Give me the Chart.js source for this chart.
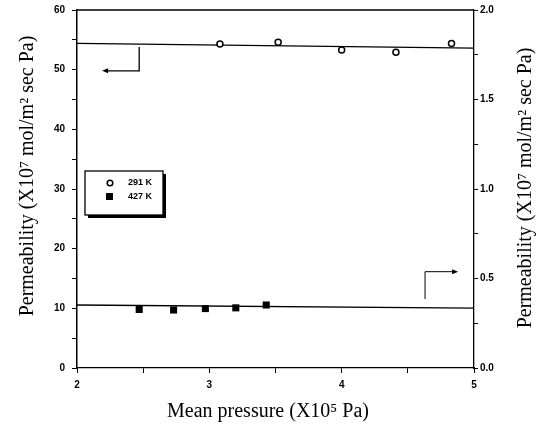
<!DOCTYPE html>
<html>
<head>
<meta charset="utf-8">
<script src="https://cdn.jsdelivr.net/npm/chart.js@4"></script>
<style>
  html, body { margin: 0; padding: 0; background: #fff; }
  #wrap { width: 547px; height: 428px; }
</style>
</head>
<body>
<div id="wrap"><canvas id="chart" width="547" height="428"></canvas></div>
<script>
// 291 K points, read against the left axis
const lowTempLabel = '291 K';
const lowTempX = [3.08, 3.52, 4.00, 4.41, 4.83];
const lowTempY = [54.3, 54.6, 53.3, 52.9, 54.4];
const lowFitX = [2, 5];
const lowFitY = [54.4, 53.6];

// 427 K points, read against the right axis
const highTempLabel = '427 K';
const highTempX = [2.47, 2.73, 2.97, 3.20, 3.43];
const highTempY = [0.327, 0.324, 0.332, 0.336, 0.352];
const highFitX = [2, 5];
const highFitY = [0.352, 0.334];

const xTicks = [2, 3, 4, 5];
const leftTicks = [0, 10, 20, 30, 40, 50, 60];
const rightTicks = [0, 0.5, 1.0, 1.5, 2.0];

const tickFont = { family: 'Liberation Sans', size: 10, weight: 'bold' };
const titleFont = '20px "Liberation Serif"';

const toPoints = (xs, ys) => xs.map((x, i) => ({ x: x, y: ys[i] }));

function drawArrowHead(ctx, x, y, dir) {
    ctx.beginPath();
    ctx.moveTo(x, y);
    ctx.lineTo(x - dir * 6, y - 2.5);
    ctx.lineTo(x - dir * 6, y + 2.5);
    ctx.closePath();
    ctx.fill();
}

const extras = {
    id: 'extras',
    afterDraw(chart) {
        const { ctx, chartArea: a, scales } = chart;
        const { x, y, y2 } = scales;
        ctx.save();
        ctx.strokeStyle = '#000';
        ctx.fillStyle = '#000';
        ctx.lineWidth = 1.3;

        // top frame line
        ctx.beginPath();
        ctx.moveTo(a.left, a.top);
        ctx.lineTo(a.right, a.top);
        ctx.stroke();

        // arrow pointing at the left axis (291 K)
        const lx = x.getPixelForValue(2.47);
        const ly0 = y.getPixelForValue(53.8);
        const ly1 = y.getPixelForValue(49.8);
        const ltip = x.getPixelForValue(2.19);
        ctx.beginPath();
        ctx.moveTo(lx, ly0);
        ctx.lineTo(lx, ly1);
        ctx.lineTo(ltip + 4, ly1);
        ctx.stroke();
        drawArrowHead(ctx, ltip, ly1, -1);

        // arrow pointing at the right axis (427 K)
        const rx = x.getPixelForValue(4.63);
        const ry0 = y2.getPixelForValue(0.385);
        const ry1 = y2.getPixelForValue(0.538);
        const rtip = x.getPixelForValue(4.88);
        ctx.lineWidth = 1;
        ctx.beginPath();
        ctx.moveTo(rx, ry0);
        ctx.lineTo(rx, ry1);
        ctx.lineTo(rtip - 4, ry1);
        ctx.stroke();
        drawArrowHead(ctx, rtip, ry1, 1);

        // legend box with shadow
        const bx = 85, by = 171, bw = 78, bh = 44;
        ctx.fillRect(bx + 3, by + 3, bw, bh);
        ctx.fillStyle = '#fff';
        ctx.fillRect(bx, by, bw, bh);
        ctx.lineWidth = 1.3;
        ctx.strokeRect(bx, by, bw, bh);
        ctx.fillStyle = '#000';
        ctx.beginPath();
        ctx.arc(bx + 25, by + 12, 2.8, 0, Math.PI * 2);
        ctx.lineWidth = 1.5;
        ctx.stroke();
        ctx.fillRect(bx + 21, by + 22, 7, 7);
        ctx.font = 'bold 9px "Liberation Sans"';
        ctx.textBaseline = 'middle';
        ctx.textAlign = 'left';
        ctx.fillText(lowTempLabel, bx + 43, by + 12);
        ctx.fillText(highTempLabel, bx + 43, by + 26);

        // axis titles
        ctx.font = titleFont;
        ctx.textAlign = 'center';
        ctx.save();
        ctx.translate(28, 176);
        ctx.rotate(-Math.PI / 2);
        ctx.fillText('Permeability (X10\u2077 mol/m\u00b2 sec Pa)', 0, 0);
        ctx.restore();
        ctx.save();
        ctx.translate(526, 188);
        ctx.rotate(-Math.PI / 2);
        ctx.fillText('Permeability (X10\u2077 mol/m\u00b2 sec Pa)', 0, 0);
        ctx.restore();
        ctx.fillText('Mean pressure (X10\u2075 Pa)', 268, 412);

        ctx.restore();
    }
};

function fixVertical(width) {
    return s => {
        s.width = width;
        s.paddingTop = 0;
        s.paddingBottom = 0;
    };
}

new Chart(document.getElementById('chart'), {
    type: 'scatter',
    data: {
        datasets: [
            {
                label: lowTempLabel,
                data: toPoints(lowTempX, lowTempY),
                yAxisID: 'y',
                pointStyle: 'circle',
                pointRadius: 3,
                pointBorderWidth: 1.5,
                borderColor: '#000',
                backgroundColor: '#fff'
            },
            {
                label: 'fit 291',
                data: toPoints(lowFitX, lowFitY),
                yAxisID: 'y',
                showLine: true,
                pointRadius: 0,
                borderColor: '#000',
                borderWidth: 1.3
            },
            {
                label: highTempLabel,
                data: toPoints(highTempX, highTempY),
                yAxisID: 'y2',
                pointStyle: 'rect',
                pointRadius: 5,
                borderWidth: 0,
                borderColor: '#000',
                backgroundColor: '#000'
            },
            {
                label: 'fit 427',
                data: toPoints(highFitX, highFitY),
                yAxisID: 'y2',
                showLine: true,
                pointRadius: 0,
                borderColor: '#000',
                borderWidth: 1.3
            }
        ]
    },
    options: {
        responsive: false,
        animation: false,
        layout: { padding: { top: 10, left: 0, right: 0, bottom: 0 } },
        plugins: {
            legend: { display: false },
            tooltip: { enabled: false }
        },
        scales: {
            x: {
                type: 'linear',
                min: 2,
                max: 5,
                afterFit: s => { s.height = 60; },
                afterBuildTicks: s => {
                    s.ticks = [2, 2.5, 3, 3.5, 4, 4.5, 5].map(v => ({ value: v }));
                },
                ticks: {
                    color: '#000',
                    font: tickFont,
                    padding: 6,
                    maxRotation: 0,
                    callback: v => xTicks.includes(v) ? String(v) : ''
                },
                grid: { drawOnChartArea: false, color: '#000', tickLength: 5, lineWidth: 1 },
                border: { color: '#000', width: 1.3 }
            },
            y: {
                position: 'left',
                min: 0,
                max: 60,
                afterFit: fixVertical(77),
                afterBuildTicks: s => {
                    const t = [];
                    for (let v = 0; v <= 60; v += 5) t.push({ value: v });
                    s.ticks = t;
                },
                ticks: {
                    color: '#000',
                    font: tickFont,
                    padding: 7,
                    callback: v => leftTicks.includes(v) ? String(v) : ''
                },
                grid: { drawOnChartArea: false, color: '#000', tickLength: 5, lineWidth: 1 },
                border: { color: '#000', width: 1.5 }
            },
            y2: {
                position: 'right',
                min: 0,
                max: 2,
                afterFit: fixVertical(73),
                afterBuildTicks: s => {
                    const t = [];
                    for (let i = 0; i <= 8; i++) t.push({ value: i * 0.25 });
                    s.ticks = t;
                },
                ticks: {
                    color: '#000',
                    font: tickFont,
                    padding: 2,
                    callback: v => rightTicks.includes(v) ? v.toFixed(1) : ''
                },
                grid: { drawOnChartArea: false, color: '#000', tickLength: 4, lineWidth: 1 },
                border: { color: '#000', width: 1.3 }
            }
        }
    },
    plugins: [extras]
});
</script>
</body>
</html>
